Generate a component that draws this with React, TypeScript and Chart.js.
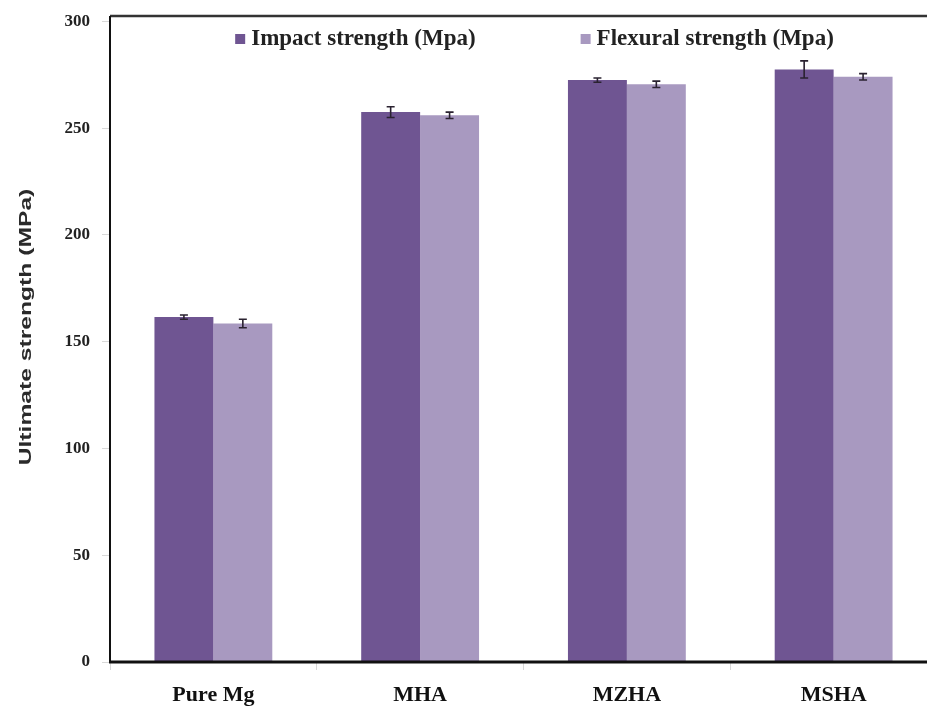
import React, { useEffect, useRef } from "react";
import { Chart, registerables } from "chart.js";

Chart.register(...registerables);

const categories = ["Pure Mg", "MHA", "MZHA", "MSHA"];
const impactValues = [161.5, 257.5, 272.5, 277.5];
const flexuralValues = [158.5, 256, 270.5, 274];
const impactErrors = [1, 2.5, 1, 4];
const flexuralErrors = [2, 1.5, 1.5, 1.5];
const yTicks = [0, 50, 100, 150, 200, 250, 300];
const seriesNames = ["Impact strength (Mpa)", "Flexural strength (Mpa)"];
const yTitle = "Ultimate strength (MPa)";

const DARK = "#6f5592";
const LIGHT = "#a899c0";
const SERIF = "'Liberation Serif', 'Times New Roman', serif";

const errorBarPlugin = {
  id: "errorBars",
  afterDatasetsDraw(chart: any) {
    const ctx = chart.ctx;
    const yScale = chart.scales.y;
    const errs = [impactErrors, flexuralErrors];
    ctx.save();
    ctx.strokeStyle = "#2a2230";
    ctx.lineWidth = 1.6;
    chart.data.datasets.forEach((ds: any, di: number) => {
      const meta = chart.getDatasetMeta(di);
      meta.data.forEach((el: any, i: number) => {
        const v = ds.data[i];
        const e = errs[di][i];
        const x = el.x;
        const yTop = yScale.getPixelForValue(v + e);
        const yBot = yScale.getPixelForValue(v - e);
        ctx.beginPath();
        ctx.moveTo(x, yTop);
        ctx.lineTo(x, yBot);
        ctx.moveTo(x - 4, yTop);
        ctx.lineTo(x + 4, yTop);
        ctx.moveTo(x - 4, yBot);
        ctx.lineTo(x + 4, yBot);
        ctx.stroke();
      });
    });
    ctx.restore();
  },
};

const framePlugin = {
  id: "frame",
  afterDatasetsDraw(chart: any) {
    const { ctx, chartArea } = chart;
    const { left, right, top, bottom } = chartArea;
    ctx.save();
    ctx.strokeStyle = "#333";
    ctx.lineWidth = 2.5;
    ctx.beginPath();
    ctx.moveTo(left, top);
    ctx.lineTo(right, top);
    ctx.lineTo(right, bottom);
    ctx.stroke();
    ctx.strokeStyle = "#111";
    ctx.lineWidth = 2;
    ctx.beginPath();
    ctx.moveTo(left, top);
    ctx.lineTo(left, bottom);
    ctx.stroke();
    ctx.lineWidth = 3;
    ctx.beginPath();
    ctx.moveTo(left - 1, bottom);
    ctx.lineTo(right, bottom);
    ctx.stroke();
    ctx.restore();
  },
};

const legendPlugin = {
  id: "customLegend",
  afterDatasetsDraw(chart: any) {
    const ctx = chart.ctx;
    const { left, right, top } = chart.chartArea;
    const box = 10;
    const gap = 6;
    const spacing = 105;
    ctx.save();
    ctx.font = `bold 23px ${SERIF}`;
    const items = chart.data.datasets.map((ds: any) => ({
      label: ds.label,
      color: ds.backgroundColor,
      w: box + gap + ctx.measureText(ds.label).width,
    }));
    const total = items.reduce((s: number, it: any) => s + it.w, 0) + spacing * (items.length - 1);
    let x = (left + right) / 2 + 11 - total / 2;
    const y = top + 23;
    items.forEach((it: any) => {
      ctx.fillStyle = it.color;
      ctx.fillRect(x, y - box / 2, box, box);
      ctx.fillStyle = "#222";
      ctx.textAlign = "left";
      ctx.textBaseline = "middle";
      ctx.fillText(it.label, x + box + gap, y);
      x += it.w + spacing;
    });
    ctx.restore();
  },
};

const yTitlePlugin = {
  id: "yTitle",
  afterDraw(chart: any) {
    const ctx = chart.ctx;
    const { top, bottom } = chart.chartArea;
    ctx.save();
    ctx.translate(26, (top + bottom) / 2 - 12);
    ctx.rotate(-Math.PI / 2);
    ctx.scale(1.45, 1);
    ctx.font = "bold 17px 'Liberation Sans', Arial, sans-serif";
    ctx.fillStyle = "#2a2a2a";
    ctx.textAlign = "center";
    ctx.textBaseline = "middle";
    ctx.fillText(yTitle, 0, 0);
    ctx.restore();
  },
};

export default function App() {
  const ref = useRef<HTMLCanvasElement | null>(null);

  useEffect(() => {
    if (!ref.current) return;
    const chart = new Chart(ref.current, {
      type: "bar",
      data: {
        labels: categories,
        datasets: [
          {
            label: seriesNames[0],
            data: impactValues,
            backgroundColor: DARK,
            borderWidth: 0,
            categoryPercentage: 0.57,
            barPercentage: 1.0,
          },
          {
            label: seriesNames[1],
            data: flexuralValues,
            backgroundColor: LIGHT,
            borderWidth: 0,
            categoryPercentage: 0.57,
            barPercentage: 1.0,
          },
        ],
      },
      options: {
        animation: false,
        responsive: false,
        devicePixelRatio: 1,
        layout: { padding: { left: 0, right: 13, top: 16, bottom: 0 } },
        plugins: {
          tooltip: { enabled: false },
          legend: { display: false },
        },
        scales: {
          x: {
            grid: {
              display: true,
              drawOnChartArea: false,
              offset: true,
              tickLength: 8,
              color: "#d8d8d8",
            },
            border: { display: false },
            ticks: {
              color: "#111",
              padding: 12,
              font: { family: SERIF, size: 22, weight: "bold" },
            },
            afterFit(scale: any) {
              scale.height = 44;
              scale.paddingLeft = 0;
              scale.paddingRight = 0;
            },
          },
          y: {
            min: 0,
            max: 302.5,
            grid: {
              display: true,
              drawOnChartArea: false,
              tickLength: 8,
              color: "#d8d8d8",
            },
            border: { display: false },
            ticks: {
              stepSize: 50,
              color: "#222",
              padding: 12,
              font: { family: SERIF, size: 17, weight: "bold" },
            },
            afterBuildTicks(scale: any) {
              scale.ticks = yTicks.map((v) => ({ value: v }));
            },
            afterFit(scale: any) {
              scale.width = 110;
              scale.paddingTop = 0;
              scale.paddingBottom = 0;
            },
          },
        },
      },
      plugins: [errorBarPlugin, framePlugin, legendPlugin, yTitlePlugin],
    } as any);
    return () => chart.destroy();
  }, []);

  return (
    <div
      style={{
        position: "fixed",
        left: 0,
        top: 0,
        width: 927,
        height: 706,
        overflow: "hidden",
        background: "#fff",
      }}
    >
      <canvas ref={ref} width={950} height={706} style={{ width: 950, height: 706, display: "block" }} />
    </div>
  );
}
